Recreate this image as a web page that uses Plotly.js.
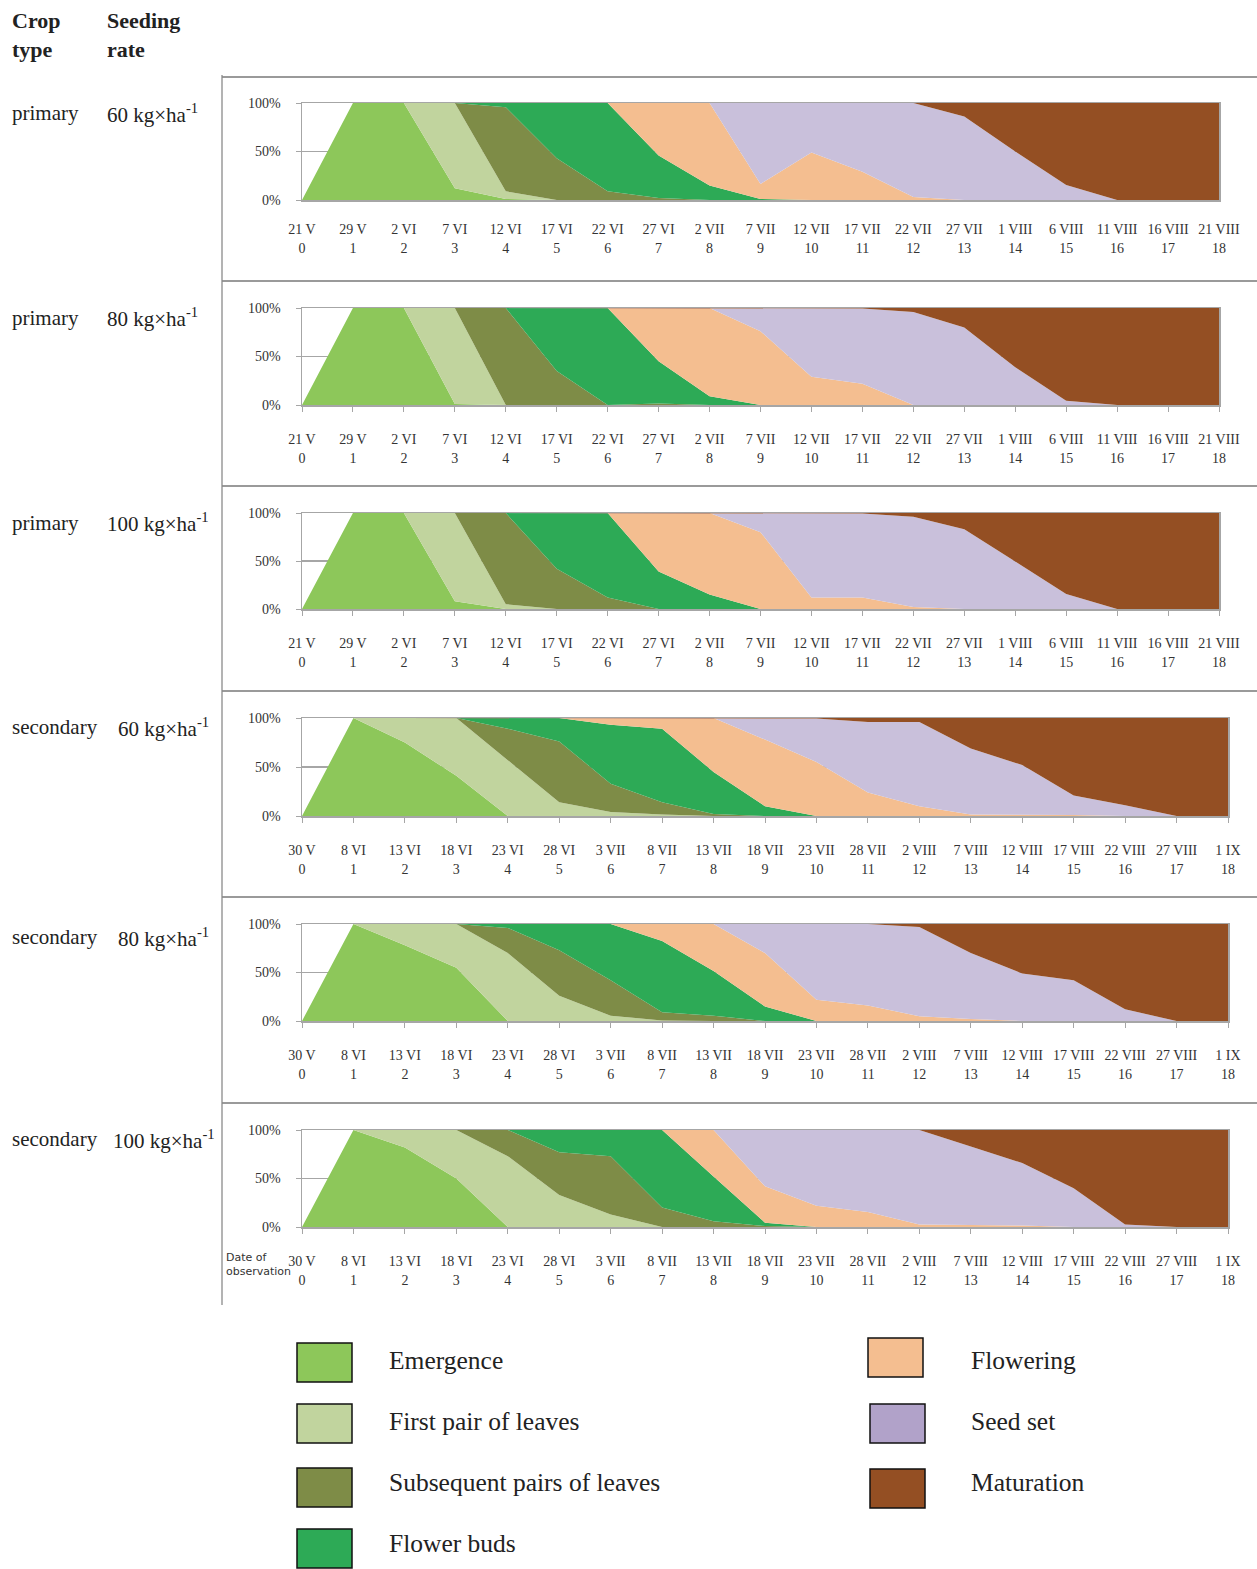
<!DOCTYPE html>
<html>
<head>
<meta charset="utf-8">
<script src="https://cdn.plot.ly/plotly-3.0.1.min.js"></script>
<style>html,body{margin:0;padding:0;background:#fff}#chart{width:1257px;height:1569px}</style>
</head>
<body>
<div id="chart"></div>
<script>
// ---------- DATA ----------
const stages = ['Emergence','First pair of leaves','Subsequent pairs of leaves','Flower buds','Flowering','Seed set','Maturation'];
const stageColors = ['#8DC75A','#C1D49E','#7E8C47','#2DAA56','#F4BE90','#C9C0DB','#944F23'];
const legendColors = ['#8DC75A','#C1D49E','#7E8C47','#2DAA56','#F4BE90','#B1A2C9','#944F23'];

const obsIndex = [0,1,2,3,4,5,6,7,8,9,10,11,12,13,14,15,16,17,18];
const datesPrimary = ['21 V','29 V','2 VI','7 VI','12 VI','17 VI','22 VI','27 VI','2 VII','7 VII','12 VII','17 VII','22 VII','27 VII','1 VIII','6 VIII','11 VIII','16 VIII','21 VIII'];
const datesSecondary = ['30 V','8 VI','13 VI','18 VI','23 VI','28 VI','3 VII','8 VII','13 VII','18 VII','23 VII','28 VII','2 VIII','7 VIII','12 VIII','17 VIII','22 VIII','27 VIII','1 IX'];

const cropTypes = ['primary','primary','primary','secondary','secondary','secondary'];
const seedingRates = ['60','80','100','60','80','100'];

// panel 1: primary 60
const p1Emergence = [0,100,100,12,1,0,0,0,0,0,0,0,0,0,0,0,0,0,0];
const p1FirstPair = [0,0,0,88,8,0,0,0,0,0,0,0,0,0,0,0,0,0,0];
const p1Subsequent = [0,0,0,0,86.5,43,9,2,0,0,0,0,0,0,0,0,0,0,0];
const p1Buds = [0,0,0,0,4.5,57,91,44,15,1,0,0,0,0,0,0,0,0,0];
const p1Flowering = [0,0,0,0,0,0,0,54,85,15.5,49,29,3,0,0,0,0,0,0];
const p1SeedSet = [0,0,0,0,0,0,0,0,0,83.5,51,71,97,86,50,15.5,0,0,0];
const p1Maturation = [0,0,0,0,0,0,0,0,0,0,0,0,0,14,50,84.5,100,100,100];
// panel 2: primary 80
const p2Emergence = [0,100,100,1,0,0,0,0,0,0,0,0,0,0,0,0,0,0,0];
const p2FirstPair = [0,0,0,99,0,0,0,0,0,0,0,0,0,0,0,0,0,0,0];
const p2Subsequent = [0,0,0,0,100,35,0,1.5,0,0,0,0,0,0,0,0,0,0,0];
const p2Buds = [0,0,0,0,0,65,100,43.5,9,0,0,0,0,0,0,0,0,0,0];
const p2Flowering = [0,0,0,0,0,0,0,55,91,76,29,22,0,0,0,0,0,0,0];
const p2SeedSet = [0,0,0,0,0,0,0,0,0,24,71,77.5,96,80,39,4.5,0,0,0];
const p2Maturation = [0,0,0,0,0,0,0,0,0,0,0,0.5,4,20,61,95.5,100,100,100];
// panel 3: primary 100
const p3Emergence = [0,100,100,8,0,0,0,0,0,0,0,0,0,0,0,0,0,0,0];
const p3FirstPair = [0,0,0,92,5,0,0,0,0,0,0,0,0,0,0,0,0,0,0];
const p3Subsequent = [0,0,0,0,95,42,12,0,0,0,0,0,0,0,0,0,0,0,0];
const p3Buds = [0,0,0,0,0,58,88,39,15,0,0,0,0,0,0,0,0,0,0];
const p3Flowering = [0,0,0,0,0,0,0,61,85,80,12,12,2,0,0,0,0,0,0];
const p3SeedSet = [0,0,0,0,0,0,0,0,0,20,88,87.5,94,83,49.5,15.5,0,0,0];
const p3Maturation = [0,0,0,0,0,0,0,0,0,0,0,0.5,4,17,50.5,84.5,100,100,100];
// panel 4: secondary 60
const p4Emergence = [0,100,75,41,0,0,0,0,0,0,0,0,0,0,0,0,0,0,0];
const p4FirstPair = [0,0,25,59,57,14,4,1.5,0,0,0,0,0,0,0,0,0,0,0];
const p4Subsequent = [0,0,0,0,32,62,29,12.5,2,0,0,0,0,0,0,0,0,0,0];
const p4Buds = [0,0,0,0,11,24,60,75,43,10,0,0,0,0,0,0,0,0,0];
const p4Flowering = [0,0,0,0,0,0,7,11,55,68,55,24,10,1.5,1.5,1,0,0,0];
const p4SeedSet = [0,0,0,0,0,0,0,0,0,22,44.5,72,86,67.5,50.5,20,11,0,0];
const p4Maturation = [0,0,0,0,0,0,0,0,0,0,0.5,4,4,31,48,79,89,100,100];
// panel 5: secondary 80
const p5Emergence = [0,100,78,55,0,0,0,0,0,0,0,0,0,0,0,0,0,0,0];
const p5FirstPair = [0,0,22,45,70,26,5.5,0.5,0,0,0,0,0,0,0,0,0,0,0];
const p5Subsequent = [0,0,0,0,26,47,36.5,8.5,5.5,0,0,0,0,0,0,0,0,0,0];
const p5Buds = [0,0,0,0,4,27,58,73.5,46,15,0,0,0,0,0,0,0,0,0];
const p5Flowering = [0,0,0,0,0,0,0,17.5,48.5,55,22,16,5,2,0,0,0,0,0];
const p5SeedSet = [0,0,0,0,0,0,0,0,0,30,78,84,92,68,49,42,12,0,0];
const p5Maturation = [0,0,0,0,0,0,0,0,0,0,0,0,3,30,51,58,88,100,100];
// panel 6: secondary 100
const p6Emergence = [0,100,82,50,0,0,0,0,0,0,0,0,0,0,0,0,0,0,0];
const p6FirstPair = [0,0,18,50,73,33,13,0,0,0,0,0,0,0,0,0,0,0,0];
const p6Subsequent = [0,0,0,0,27,44,60,20,6,1,0,0,0,0,0,0,0,0,0];
const p6Buds = [0,0,0,0,0,23,27,80,46,3.5,0,0,0,0,0,0,0,0,0];
const p6Flowering = [0,0,0,0,0,0,0,0,48,37.5,22,15.5,2.5,2,1.5,0,0,0,0];
const p6SeedSet = [0,0,0,0,0,0,0,0,0,58,78,84.5,97.5,81,64.5,40,2.5,0,0];
const p6Maturation = [0,0,0,0,0,0,0,0,0,0,0,0,0,17,34,60,97.5,100,100];

const panelSeries = [
  [p1Emergence,p1FirstPair,p1Subsequent,p1Buds,p1Flowering,p1SeedSet,p1Maturation],
  [p2Emergence,p2FirstPair,p2Subsequent,p2Buds,p2Flowering,p2SeedSet,p2Maturation],
  [p3Emergence,p3FirstPair,p3Subsequent,p3Buds,p3Flowering,p3SeedSet,p3Maturation],
  [p4Emergence,p4FirstPair,p4Subsequent,p4Buds,p4Flowering,p4SeedSet,p4Maturation],
  [p5Emergence,p5FirstPair,p5Subsequent,p5Buds,p5Flowering,p5SeedSet,p5Maturation],
  [p6Emergence,p6FirstPair,p6Subsequent,p6Buds,p6Flowering,p6SeedSet,p6Maturation]
];

// ---------- LAYOUT ----------
const W = 1257, H = 1569;
const px = x => x / W;
const py = y => 1 - y / H;
const serif = 'Liberation Serif, Times New Roman, serif';
const axisGrey = '#a6a6a6';

const plotTop = [103,308,513,718,924,1130];
const plotBottom = [200,405,609,816,1021,1227];
const plotLeft = 302;
const plotRight = [1219,1219,1219,1228,1228,1228];
const rowLabelY = [113,318,523,727,937,1139];
const rateX = [105,105,105,116,116,111];
const sepY = [77,281,486,691,897,1103];

const traces = [];
const layout = {
  width: W, height: H,
  margin: {l:0, r:0, t:0, b:0},
  paper_bgcolor: '#ffffff', plot_bgcolor: '#ffffff',
  showlegend: false,
  font: {family: serif, color: '#222'},
  shapes: [], annotations: []
};

for (let k = 0; k < 6; k++) {
  const xa = k === 0 ? 'x' : 'x' + (k+1);
  const ya = k === 0 ? 'y' : 'y' + (k+1);
  const xName = k === 0 ? 'xaxis' : 'xaxis' + (k+1);
  const yName = k === 0 ? 'yaxis' : 'yaxis' + (k+1);
  const dates = k < 3 ? datesPrimary : datesSecondary;
  for (let s = 0; s < 7; s++) {
    traces.push({
      type: 'scatter', mode: 'lines',
      x: obsIndex, y: panelSeries[k][s],
      xaxis: xa, yaxis: ya,
      stackgroup: 'g' + k,
      name: stages[s],
      line: {width: 0, color: stageColors[s]},
      fillcolor: stageColors[s],
      hoverinfo: 'skip'
    });
  }
  layout[xName] = {
    domain: [px(plotLeft), px(plotRight[k])],
    anchor: ya, range: [0,18],
    tickmode: 'array', tickvals: obsIndex,
    ticktext: obsIndex.map((v,i) => dates[i] + '<br>' + v),
    ticks: k === 0 ? '' : 'outside', ticklen: 5, tickcolor: axisGrey,
    ticklabelstandoff: 16,
    tickfont: {family: serif, size: 14, color: '#333'},
    showline: true, mirror: true, linecolor: axisGrey, linewidth: 1.5,
    showgrid: false, zeroline: false, fixedrange: true
  };
  layout[yName] = {
    domain: [py(plotBottom[k]), py(plotTop[k])],
    anchor: xa, range: [0,100],
    tickmode: 'array', tickvals: [0,50,100], ticktext: ['0%','50%','100%'],
    ticks: 'outside', ticklen: 5, tickcolor: axisGrey,
    ticklabelstandoff: 12,
    tickfont: {family: serif, size: 14, color: '#333'},
    showline: true, mirror: true, linecolor: axisGrey, linewidth: 1.5,
    showgrid: true, gridcolor: axisGrey, gridwidth: 1.2,
    zeroline: false, fixedrange: true
  };
  // row labels
  layout.annotations.push({
    xref:'paper', yref:'paper', x: px(10), y: py(rowLabelY[k]),
    xanchor:'left', yanchor:'middle', showarrow:false,
    text: cropTypes[k], font:{family: serif, size: 21, color:'#222'}
  });
  layout.annotations.push({
    xref:'paper', yref:'paper', x: px(rateX[k]), y: py(rowLabelY[k]),
    xanchor:'left', yanchor:'middle', showarrow:false,
    text: seedingRates[k] + ' kg×ha<sup>-1</sup>', font:{family: serif, size: 21, color:'#222'}
  });
  // separator line
  layout.shapes.push({type:'line', xref:'paper', yref:'paper',
    x0: px(222), x1: 1, y0: py(sepY[k]), y1: py(sepY[k]),
    line:{color:'#9a9a9a', width:2}});
}

// vertical divider
layout.shapes.push({type:'line', xref:'paper', yref:'paper',
  x0: px(222), x1: px(222), y0: py(75), y1: py(1305),
  line:{color:'#8a8a8a', width:1.3}});

// header
layout.annotations.push({xref:'paper', yref:'paper', x: px(10), y: py(35), xanchor:'left', yanchor:'middle',
  showarrow:false, align:'left', text:'<b>Crop<br>type</b>', font:{family: serif, size: 22, color:'#222'}});
layout.annotations.push({xref:'paper', yref:'paper', x: px(105), y: py(35), xanchor:'left', yanchor:'middle',
  showarrow:false, align:'left', text:'<b>Seeding<br>rate</b>', font:{family: serif, size: 22, color:'#222'}});

// "Date of observation"
layout.annotations.push({xref:'paper', yref:'paper', x: px(224), y: py(1264), xanchor:'left', yanchor:'middle',
  showarrow:false, align:'left', text:'Date of<br>observation', font:{family: 'DejaVu Sans, sans-serif', size: 11, color:'#333'}});

// legend
const legendBoxes = [
  {x0:297, y0:1343}, {x0:297, y0:1404}, {x0:297, y0:1468}, {x0:297, y0:1529},
  {x0:868, y0:1338}, {x0:870, y0:1404}, {x0:870, y0:1469}
];
const legendTextX = [387,387,387,387,969,969,969];
const legendTextY = [1360,1421,1482,1543,1360,1421,1482];
for (let s = 0; s < 7; s++) {
  const b = legendBoxes[s];
  layout.shapes.push({type:'rect', xref:'paper', yref:'paper',
    x0: px(b.x0), x1: px(b.x0+55), y0: py(b.y0), y1: py(b.y0+39),
    fillcolor: legendColors[s], line:{color:'#111', width:1.5}});
  layout.annotations.push({xref:'paper', yref:'paper', x: px(legendTextX[s]), y: py(legendTextY[s]),
    xanchor:'left', yanchor:'middle', showarrow:false, text: stages[s],
    font:{family: serif, size: 25.5, color:'#222'}});
}

Plotly.newPlot('chart', traces, layout, {staticPlot: true, displayModeBar: false});
</script>
</body>
</html>
